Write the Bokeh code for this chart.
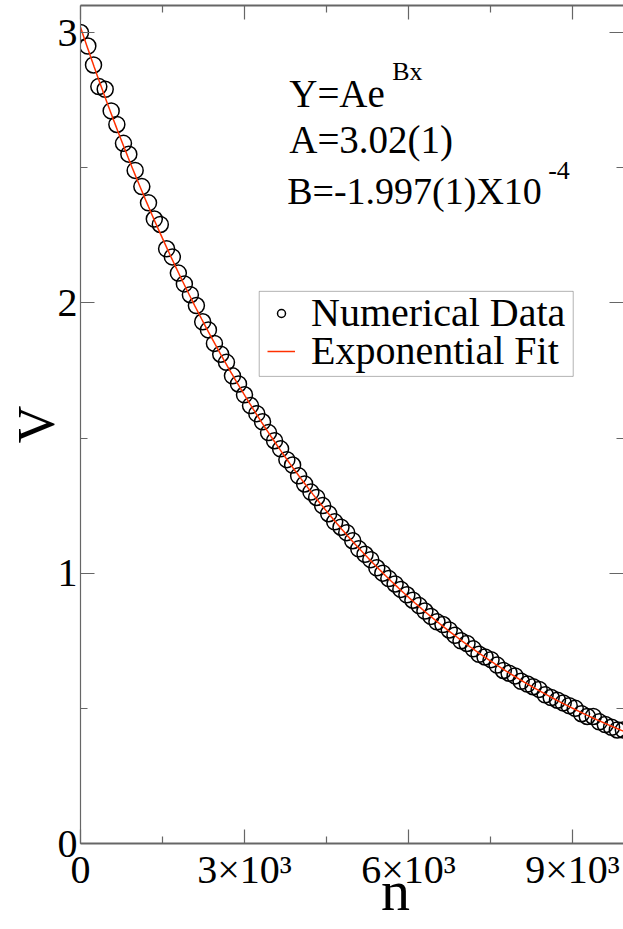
import numpy as np
from bokeh.plotting import figure
from bokeh.models import (Range1d, LinearAxis, FixedTicker, Label, Legend,
                          LegendItem, BoxAnnotation)
from bokeh.embed import file_html
from bokeh.resources import INLINE

# ---- data ----
n_values = [0, 134, 238, 335, 452, 561, 665, 786, 884, 1000,
            1122, 1244, 1350, 1460, 1575, 1680, 1790, 1900, 2010, 2120,
            2235, 2340, 2450, 2565, 2670, 2780, 2890, 3000, 3110, 3225,
            3330, 3440, 3550, 3660, 3775, 3880, 3990, 4100, 4215, 4320,
            4430, 4540, 4650, 4765, 4870, 4980, 5090, 5205, 5310, 5420,
            5530, 5640, 5755, 5860, 5970, 6080, 6195, 6300, 6410, 6520,
            6630, 6745, 6850, 6960, 7070, 7185, 7290, 7400, 7510, 7620,
            7735, 7840, 7950, 8060, 8175, 8280, 8390, 8500, 8610, 8725,
            8830, 8940, 9050, 9165, 9270, 9380, 9490, 9600, 9715, 9820,
            9930]
v_values = [3.00, 2.95, 2.88, 2.80, 2.79, 2.71, 2.66, 2.59, 2.55, 2.49,
            2.43, 2.37, 2.31, 2.29, 2.20, 2.17, 2.11, 2.07, 2.03, 1.99,
            1.93, 1.90, 1.85, 1.81, 1.78, 1.73, 1.70, 1.66, 1.62, 1.59,
            1.56, 1.52, 1.49, 1.46, 1.42, 1.40, 1.36, 1.33, 1.30, 1.28,
            1.25, 1.22, 1.19, 1.17, 1.15, 1.12, 1.09, 1.07, 1.05, 1.02,
            1.00, 0.98, 0.96, 0.94, 0.92, 0.90, 0.88, 0.86, 0.84, 0.82,
            0.81, 0.79, 0.77, 0.75, 0.74, 0.72, 0.70, 0.69, 0.68, 0.66,
            0.64, 0.63, 0.62, 0.60, 0.59, 0.58, 0.57, 0.55, 0.54, 0.53,
            0.52, 0.51, 0.50, 0.48, 0.47, 0.47, 0.45, 0.44, 0.43, 0.42,
            0.42]

fit_A = 3.02
fit_B = -1.997e-4

x_major = [0, 3000, 6000, 9000]
x_minor = [1500, 4500, 7500]
x_tick_labels = ["0", "3×10³", "6×10³", "9×10³"]
y_major = [0, 1, 2, 3]
y_minor = [0.5, 1.5, 2.5]
y_tick_labels = ["0", "1", "2", "3"]

FONT = "Liberation Serif"
AXC = "#666666"

X_END = 9933
Y_END = 3.10

p = figure(width=623, height=929,
           x_range=Range1d(0, X_END), y_range=Range1d(0, Y_END),
           output_backend="svg", toolbar_location=None,
           x_axis_location=None, y_axis_location=None,
           min_border_left=80, min_border_right=0,
           min_border_top=5, min_border_bottom=86)
p.grid.visible = False
p.outline_line_color = None
p.background_fill_color = "white"


def make_axis(major, minor, labels, show_labels, line_width, line_color=AXC):
    ax = LinearAxis()
    ax.ticker = FixedTicker(ticks=major, minor_ticks=minor)
    ax.major_tick_in = 14
    ax.major_tick_out = 0
    ax.minor_tick_in = 7
    ax.minor_tick_out = 0
    ax.axis_line_color = line_color
    ax.axis_line_width = line_width
    ax.major_tick_line_color = AXC
    ax.minor_tick_line_color = AXC
    ax.major_tick_line_width = 1.2
    ax.minor_tick_line_width = 1.2
    if show_labels:
        ax.major_label_overrides = {m: l for m, l in zip(major, labels)}
        ax.major_label_text_font = FONT
        ax.major_label_text_font_size = "40px"
        ax.major_label_text_color = "black"
    else:
        ax.major_label_text_font_size = "0px"
        ax.major_label_standoff = 0
    return ax


bottom = make_axis(x_major, x_minor, x_tick_labels, True, 2)
bottom.major_label_standoff = 3
bottom.axis_label = "\u2003\u2002n"
bottom.axis_label_text_font = FONT
bottom.axis_label_text_font_size = "58px"
bottom.axis_label_text_font_style = "normal"
bottom.axis_label_text_color = "black"
bottom.axis_label_standoff = -37

left = make_axis(y_major, y_minor, y_tick_labels, True, 1.2)
left.major_label_standoff = 3
left.axis_label = "V"
left.axis_label_text_font = FONT
left.axis_label_text_font_size = "52px"
left.axis_label_text_font_style = "normal"
left.axis_label_text_color = "black"
left.axis_label_standoff = -10

top = make_axis(x_major, x_minor, x_tick_labels, False, 2)
right = make_axis(y_major, y_minor, y_tick_labels, False, 1.2, line_color=None)

p.add_layout(bottom, "below")
p.add_layout(left, "left")
p.add_layout(top, "above")
p.add_layout(right, "right")

r_pts = p.scatter(n_values, v_values, marker="circle", size=16,
                  fill_color=None, line_color="black", line_width=1.5)

fit_n = np.linspace(0, X_END, 400)
fit_v = fit_A * np.exp(fit_B * fit_n)
r_fit = p.line(fit_n, fit_v, line_color="#ff3000", line_width=1.5)

# legend frame
p.add_layout(BoxAnnotation(left=3269, right=9013, top=2.0426, bottom=1.728,
                           fill_color="white", fill_alpha=1.0,
                           line_color="black", line_width=1))


def one_item_legend(label, renderer, loc):
    lg = Legend(items=[LegendItem(label=label, renderers=[renderer])],
                location=loc)
    lg.label_text_font = FONT
    lg.label_text_font_size = "40px"
    lg.label_text_color = "black"
    lg.border_line_color = None
    lg.background_fill_alpha = 0
    lg.padding = 0
    lg.spacing = 0
    lg.glyph_width = 28
    lg.label_standoff = 16
    lg.margin = 0
    return lg


p.add_layout(one_item_legend("Numerical Data", r_pts, (187, 507)))
p.add_layout(one_item_legend("Exponential Fit", r_fit, (187, 469)))

txt = dict(text_font=FONT, text_color="black", text_baseline="alphabetic")
p.add_layout(Label(x=3818, y=2.775, text="Y=Ae", text_font_size="39px", **txt))
p.add_layout(Label(x=5702, y=2.855, text="Bx", text_font_size="26px", **txt))
p.add_layout(Label(x=3818, y=2.605, text="A=3.02(1)", text_font_size="39px", **txt))
p.add_layout(Label(x=3781, y=2.413, text="B=-1.997(1)X10", text_font_size="38px", **txt))
p.add_layout(Label(x=8555, y=2.490, text="-4", text_font_size="26px", **txt))

open("out.html", "w").write(file_html(p, INLINE))
